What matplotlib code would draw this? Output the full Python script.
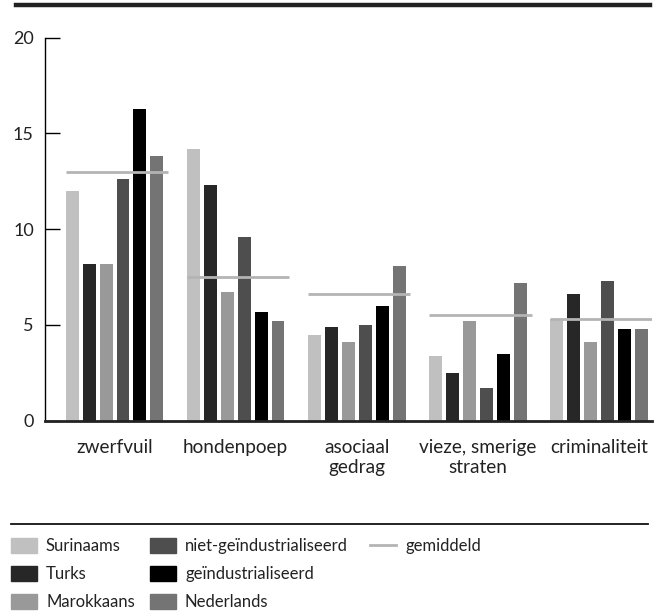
import numpy as np
import matplotlib.pyplot as plt
from matplotlib.patches import Patch
from matplotlib.lines import Line2D

plt.rcParams['font.family'] = ['Lato', 'DejaVu Sans']

categories = ['zwerfvuil', 'hondenpoep', 'asociaal\ngedrag', 'vieze, smerige\nstraten', 'criminaliteit']
groups = ['Surinaams', 'Turks', 'Marokkaans', 'niet-geïndustrialiseerd', 'geïndustrialiseerd', 'Nederlands']
values = {
    'Surinaams':               [12.0, 14.2, 4.5, 3.4, 5.3],
    'Turks':                   [8.2, 12.3, 4.9, 2.5, 6.6],
    'Marokkaans':              [8.2, 6.7, 4.1, 5.2, 4.1],
    'niet-geïndustrialiseerd': [12.6, 9.6, 5.0, 1.7, 7.3],
    'geïndustrialiseerd':      [16.3, 5.7, 6.0, 3.5, 4.8],
    'Nederlands':              [13.8, 5.2, 8.1, 7.2, 4.8],
}
gemiddeld = [13.0, 7.5, 6.6, 5.5, 5.3]
colors = ['#c0c0c0', '#272727', '#999999', '#4e4e4e', '#000000', '#747474']
avg_color = '#b4b4b4'
txt = '#222222'

fig = plt.figure(figsize=(6.58, 6.15), dpi=100)
ax = fig.add_axes([45/658, 1 - 420.7/615, 607/658, 383/615])

x = np.arange(len(categories))
step = 0.14
width = 0.107
for i, g in enumerate(groups):
    ax.bar(x + (i - 2.5) * step, values[g], width, color=colors[i], zorder=2)

left = -2.5 * step - width / 2
right = 2.5 * step + width / 2 + 0.04
for xi, m in zip(x, gemiddeld):
    ax.hlines(m, xi + left, xi + right, color=avg_color, lw=2, zorder=3)

ax.set_xlim(-0.574, 4.438)
ax.set_ylim(0, 20)
ax.set_yticks([0, 5, 10, 15, 20])
ax.set_xticks(x)
ax.set_xticklabels(categories, fontsize=13.7, color=txt, linespacing=1.2)
ax.tick_params(axis='x', length=0, pad=13)
ax.tick_params(axis='y', direction='in', length=11, width=1, pad=8,
               labelsize=13, labelcolor=txt)
for s in ['top', 'right']:
    ax.spines[s].set_visible(False)
ax.spines['left'].set_linewidth(1)
ax.spines['bottom'].set_linewidth(2)
ax.spines['bottom'].set_color(txt)

# top thick rule and legend rule
fig.add_artist(Line2D([16/658, 650/658], [1 - 5/615, 1 - 5/615], lw=3.2, color=txt))
fig.add_artist(Line2D([11/658, 648/658], [1 - 524/615, 1 - 524/615], lw=1.3, color='#111111'))

handles = [Patch(color=c, label=g) for c, g in zip(colors, groups)]
avg_handle = Line2D([], [], color=avg_color, lw=2, label='gemiddeld')
cols = [(handles[:3], 11), (handles[3:], 150), ([avg_handle], 370)]
for hs, xpx in cols:
    fig.legend(handles=hs, loc='upper left', bbox_to_anchor=(xpx/658, 1 - 538/615),
               frameon=False, fontsize=12, handlelength=1.56, handleheight=0.96,
               labelspacing=0.72, handletextpad=0.54, borderpad=0, borderaxespad=0,
               labelcolor=txt)

fig.savefig('out.png', dpi=100)
